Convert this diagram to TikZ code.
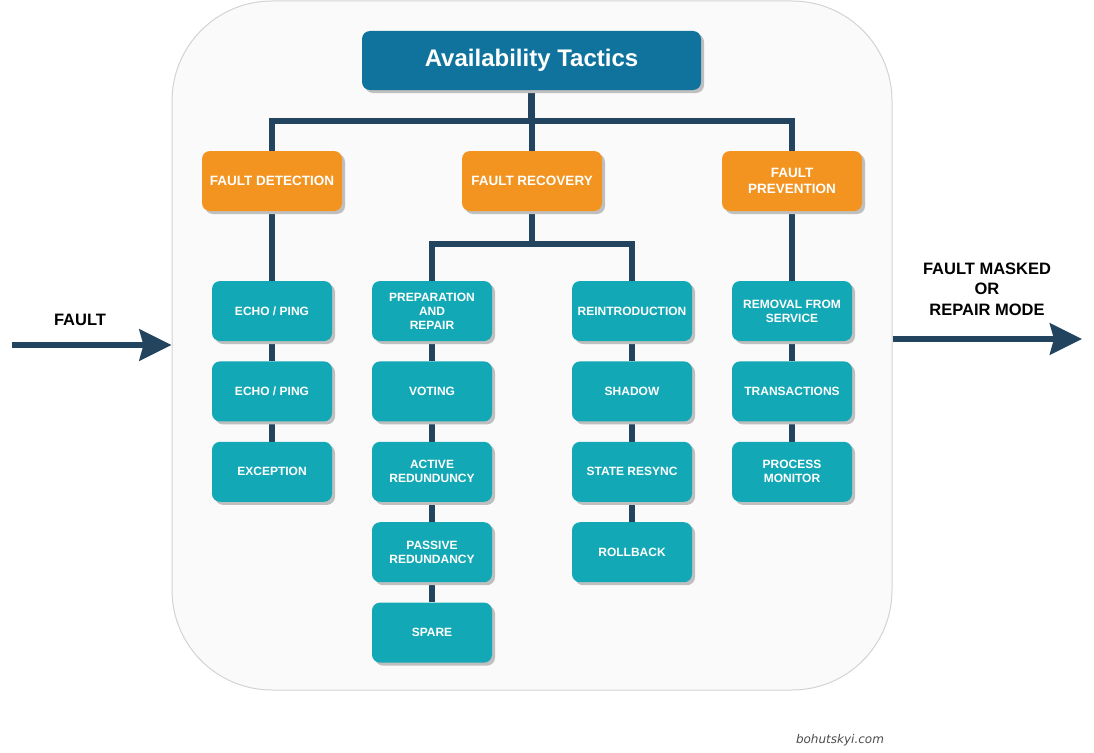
\documentclass[tikz,border=0pt]{standalone}
\usepackage{fontspec}
\setmainfont{Liberation Sans}
\newfontfamily\markfont{DejaVu Sans}
\usetikzlibrary{positioning,shadows,arrows.meta}

\definecolor{titleblue}{RGB}{16,115,157}
\definecolor{groupor}{RGB}{243,148,32}
\definecolor{tactic}{RGB}{19,168,181}
\definecolor{wire}{RGB}{35,68,95}
\definecolor{panelfill}{RGB}{250,250,250}
\definecolor{panelline}{RGB}{211,211,211}

\pgfdeclarelayer{panel}
\pgfdeclarelayer{wires}
\pgfsetlayers{panel,wires,main}

\begin{document}
\begin{tikzpicture}[x=1pt, y=-1pt,
    box/.style={rounded corners=8pt, inner sep=0pt, align=center, text=white,
        drop shadow={shadow xshift=3pt, shadow yshift=-3pt, fill=black!25, opacity=1}},
    titlebox/.style={box, fill=titleblue, minimum width=339pt, minimum height=59pt,
        font=\fontsize{24}{28}\selectfont\bfseries},
    groupbox/.style={box, fill=groupor, minimum width=140pt, minimum height=60pt,
        font=\fontsize{13.5}{15.5}\selectfont\bfseries},
    tacticbox/.style={box, fill=tactic, minimum width=120pt, minimum height=60pt,
        font=\fontsize{12}{14}\selectfont\bfseries},
    link/.style={draw=wire, line width=6.5pt, line join=miter},
    bigarrow/.style={draw=wire, line width=6pt,
        -{Stealth[length=32pt, width=31pt, inset=4pt]}},
    caption/.style={font=\fontsize{16.5}{20.5}\selectfont\bfseries, align=center}
]
\useasboundingbox (0,0) rectangle (1094,752);

% Background panel
\begin{pgfonlayer}{panel}
\node[draw=panelline, fill=panelfill, line width=1pt, rounded corners=100pt,
      minimum width=720pt, minimum height=689pt] (panel) at (532,345.5) {};
\end{pgfonlayer}

% Title and groups
\node[titlebox] (title) at (531.5,60.5) {Availability Tactics};
\node[groupbox] (detect) at (272,181) {FAULT DETECTION};
\node[groupbox] (recover) at (532,181) {FAULT RECOVERY};
\node[groupbox] (prevent) at (792,181) {FAULT\\PREVENTION};

% Fault detection column
\node[tacticbox] (echoa) at (272,311) {ECHO / PING};
\node[tacticbox, below=20pt of echoa] (echob) {ECHO / PING};
\node[tacticbox, below=20pt of echob] (except) {EXCEPTION};

% Fault recovery columns
\node[tacticbox] (prep) at (432,311) {PREPARATION\\AND\\REPAIR};
\node[tacticbox, below=20pt of prep] (voting) {VOTING};
\node[tacticbox, below=20pt of voting] (active) {ACTIVE\\REDUNDUNCY};
\node[tacticbox, below=20pt of active] (passive) {PASSIVE\\REDUNDANCY};
\node[tacticbox, below=20pt of passive] (spare) {SPARE};

\node[tacticbox] (reintro) at (632,311) {REINTRODUCTION};
\node[tacticbox, below=20pt of reintro] (shadow) {SHADOW};
\node[tacticbox, below=20pt of shadow] (resync) {STATE RESYNC};
\node[tacticbox, below=20pt of resync] (rollback) {ROLLBACK};

% Fault prevention column
\node[tacticbox] (removal) at (792,311) {REMOVAL FROM\\SERVICE};
\node[tacticbox, below=20pt of removal] (trans) {TRANSACTIONS};
\node[tacticbox, below=20pt of trans] (monitor) {PROCESS\\MONITOR};

% Tree links
\coordinate (topbus) at (531.5,121);
\coordinate (recbus) at (532,244);
\begin{pgfonlayer}{wires}
\draw[link] (title.south) -- (topbus);
\draw[link] (detect.north) |- (topbus) -| (prevent.north);
\draw[link] (recover.north) -- (recover.north |- topbus);
\draw[link] (detect) -- (echoa) -- (echob) -- (except);
\draw[link] (recover.south) -- (recbus);
\draw[link] (prep.north) |- (recbus) -| (reintro.north);
\draw[link] (prep) -- (voting) -- (active) -- (passive) -- (spare);
\draw[link] (reintro) -- (shadow) -- (resync) -- (rollback);
\draw[link] (prevent) -- (removal) -- (trans) -- (monitor);
\end{pgfonlayer}

% Input and output
\coordinate (faultin) at (12,345);
\coordinate (maskout) at (1082,339);
\draw[bigarrow] (faultin) -- (faultin -| panel.west);
\draw[bigarrow] (maskout -| panel.east) -- (maskout);
\node[caption] (faultlbl) at (80,320) {FAULT};
\node[caption] (masklbl) at (987,289) {FAULT MASKED\\OR\\ REPAIR MODE};

% Watermark
\node[font=\markfont\itshape\fontsize{12}{14}\selectfont, text=black!70] (mark) at (840,740) {bohutskyi.com};

\end{tikzpicture}
\end{document}
